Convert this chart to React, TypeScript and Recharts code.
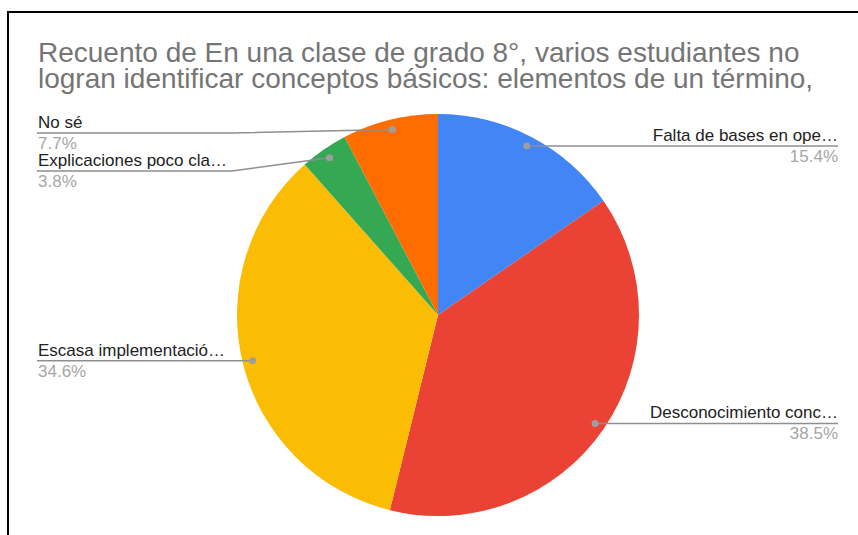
import { PieChart, Pie, Cell } from "recharts";

const categories = [
  "Falta de bases en ope…",
  "Desconocimiento conc…",
  "Escasa implementació…",
  "Explicaciones poco cla…",
  "No sé",
];
const counts = [4, 10, 9, 1, 2];
const sliceColors = ["#4285f4", "#ea4335", "#fbbc04", "#34a853", "#ff6d01"];
const titleLines = [
  "Recuento de En una clase de grado 8°, varios estudiantes no",
  "logran identificar conceptos básicos: elementos de un término,",
];

const FONT = "Arial, 'Liberation Sans', sans-serif";
const CX = 438;
const CY = 315;
const R = 201;
const DOT_R = R * 0.95;
const LEFT_X = 37;
const RIGHT_X = 838;
const BEND = 206;
const MIN_Y = 133;
const GAP = 38;
const RAD = Math.PI / 180;

const data = categories.map((name, i) => ({ name, value: counts[i] }));

// work out where each leader line sits, pushing crowded ones down
const total = counts.reduce((a, b) => a + b, 0);
const mids: number[] = [];
let acc = 0;
counts.forEach((v) => {
  mids.push(90 - (360 * (acc + v / 2)) / total);
  acc += v;
});
const lineY: number[] = [];
const sides = mids.map((m) => (Math.cos(m * RAD) >= 0 ? "right" : "left"));
["left", "right"].forEach((side) => {
  const idx = mids
    .map((m, i) => i)
    .filter((i) => sides[i] === side)
    .sort((a, b) => -Math.sin(mids[a] * RAD) + Math.sin(mids[b] * RAD));
  let prev = -Infinity;
  idx.forEach((i) => {
    const dy = CY - DOT_R * Math.sin(mids[i] * RAD);
    const y = Math.max(dy, prev + GAP, MIN_Y);
    lineY[i] = y;
    prev = y;
  });
});

const renderLabel = (props: any) => {
  const { cx, cy, midAngle, index, percent } = props;
  const dx = cx + DOT_R * Math.cos(-midAngle * RAD);
  const dy = cy + DOT_R * Math.sin(-midAngle * RAD);
  const ly = lineY[index];
  const right = sides[index] === "right";
  const endX = right ? RIGHT_X : LEFT_X;
  const bendX = right ? cx + BEND : cx - BEND;
  const pts =
    Math.abs(ly - dy) < 1
      ? `${dx},${ly} ${endX},${ly}`
      : `${dx},${dy} ${bendX},${ly} ${endX},${ly}`;
  const anchor = right ? "end" : "start";
  const tx = right ? RIGHT_X : LEFT_X + 1;
  return (
    <g key={`lbl-${index}`}>
      <polyline points={pts} fill="none" stroke="#8f8f8f" strokeWidth={1.5} />
      <circle cx={dx} cy={dy} r={3.5} fill="#9e9e9e" />
      <text
        x={tx}
        y={ly - 5}
        textAnchor={anchor}
        fill="#222222"
        fontSize={17}
        fontFamily={FONT}
      >
        {categories[index]}
      </text>
      <text
        x={tx}
        y={ly + 16}
        textAnchor={anchor}
        fill="#a6a6a6"
        fontSize={17}
        fontFamily={FONT}
      >
        {(percent * 100).toFixed(1)}%
      </text>
    </g>
  );
};

export default function App() {
  return (
    <div
      style={{
        position: "fixed",
        left: 0,
        top: 0,
        width: 858,
        height: 535,
        overflow: "hidden",
        background: "#ffffff",
      }}
    >
      <div
        style={{
          position: "absolute",
          left: 7,
          top: 11,
          width: 900,
          height: 600,
          border: "2px solid #000000",
        }}
      />
      <div
        style={{
          position: "absolute",
          left: 38,
          top: 40,
          fontFamily: FONT,
          fontSize: 28,
          lineHeight: "25.5px",
          color: "#757575",
          whiteSpace: "nowrap",
        }}
      >
        {titleLines.map((t) => (
          <div key={t}>{t}</div>
        ))}
      </div>
      <div style={{ position: "absolute", left: 0, top: 0 }}>
        <PieChart
          width={858}
          height={535}
          margin={{ top: 0, right: 0, bottom: 0, left: 0 }}
        >
          <Pie
            data={data}
            dataKey="value"
            nameKey="name"
            cx={CX}
            cy={CY}
            outerRadius={R}
            startAngle={90}
            endAngle={-270}
            stroke="none"
            label={renderLabel}
            labelLine={false}
            isAnimationActive={false}
          >
            {data.map((d, i) => (
              <Cell key={`cell-${i}`} fill={sliceColors[i]} />
            ))}
          </Pie>
        </PieChart>
      </div>
    </div>
  );
}
